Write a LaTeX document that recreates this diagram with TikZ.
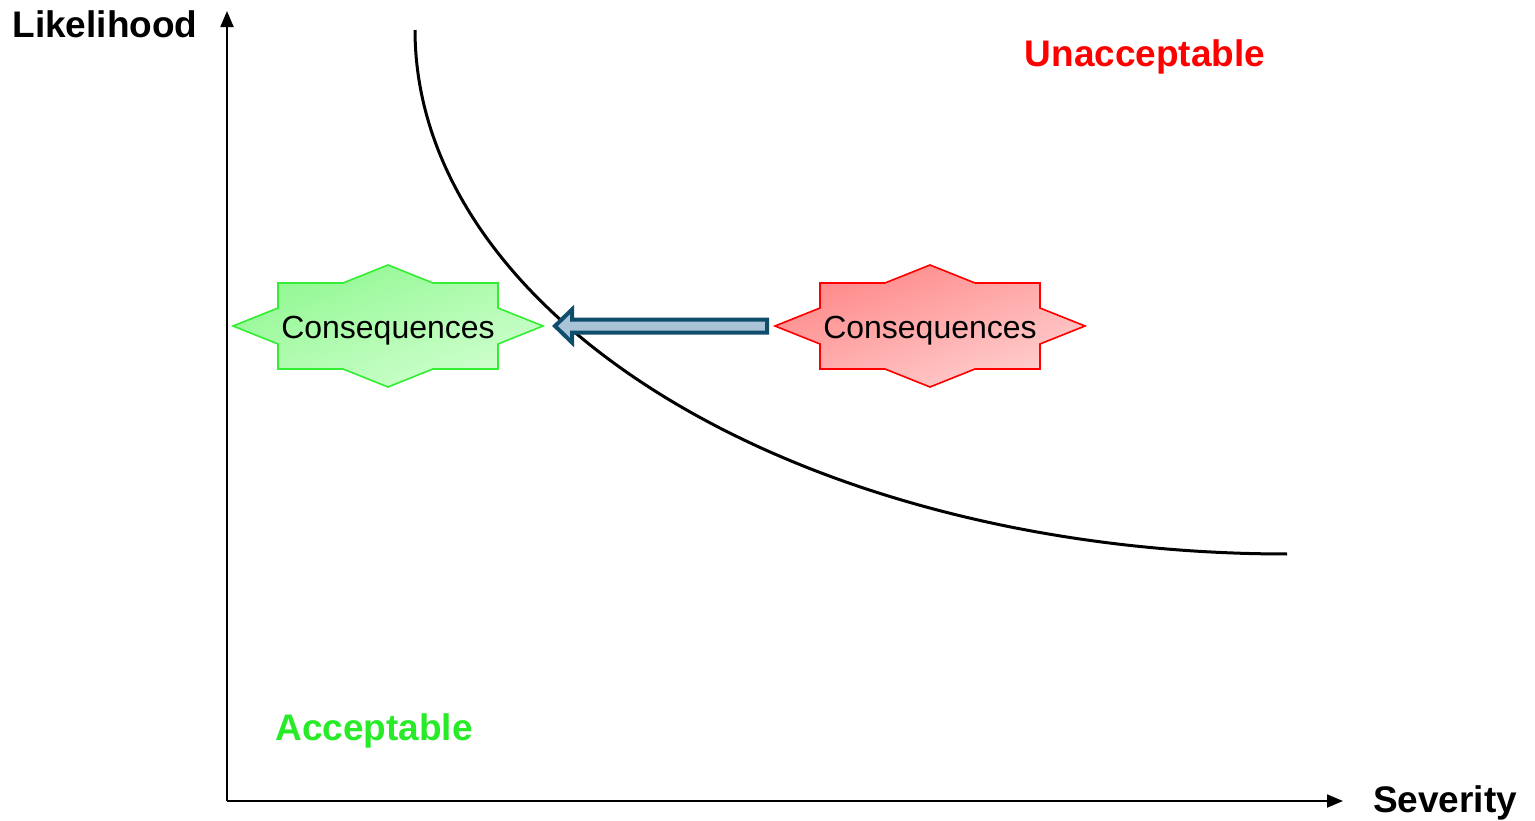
\documentclass[tikz,border=0pt]{standalone}
\usepackage{fontspec}
\setmainfont{Liberation Sans}
\usetikzlibrary{calc,arrows.meta}

\definecolor{okline}{RGB}{51,238,51}
\definecolor{oktop}{RGB}{145,248,145}
\definecolor{okbot}{RGB}{208,255,208}
\definecolor{badline}{RGB}{255,0,0}
\definecolor{badtop}{RGB}{255,135,135}
\definecolor{badbot}{RGB}{255,208,208}
\definecolor{arrowline}{RGB}{14,78,108}
\definecolor{arrowfill}{RGB}{170,195,215}
\definecolor{okgreen}{RGB}{40,235,40}
\definecolor{badred}{RGB}{255,0,0}

% eight-point burst around a centre; names (#1-e) and (#1-w)
\newcommand\burst[5]{%
  \draw[line width=1.6pt, draw=#3, top color=#4, bottom color=#5, shading angle=20, line join=miter]
    (#2) +(-155,0) -- +(-110,-18) -- +(-110,-43) -- +(-45,-43) -- +(0,-61)
    -- +(45,-43) -- +(110,-43) -- +(110,-18) -- +(155,0) -- +(110,18)
    -- +(110,43) -- +(45,43) -- +(0,61) -- +(-45,43) -- +(-110,43)
    -- +(-110,18) -- cycle;
  \coordinate (#1-e) at ($(#2)+(155,0)$);
  \coordinate (#1-w) at ($(#2)+(-155,0)$);
}

\tikzset{
  axis/.style={line width=1.8pt, -{Triangle[length=16pt, width=13pt]}},
  axislabel/.style={font=\fontsize{37}{44}\selectfont\bfseries, inner sep=0pt, anchor=base},
  burstlabel/.style={font=\fontsize{32}{38}\selectfont, inner sep=0pt, anchor=base},
  curve/.style={line width=3pt, line cap=butt},
  blockarrow/.style={line width=4pt, draw=arrowline, fill=arrowfill, line join=miter, miter limit=10},
}

\begin{document}
\begin{tikzpicture}[x=1pt, y=-1pt]
\useasboundingbox (0,0) rectangle (1535,820);

% axes
\coordinate (O) at (227,801);
\coordinate (ytop) at (227,11);
\coordinate (xend) at (1343,801);
\draw[axis] (O) -- (ytop);
\draw[axis] (O) -- (xend);

\node[axislabel] (ylab) at (105,37) {Likelihood};
\node[axislabel] (xlab) at (1445,812) {Severity};
\node[axislabel, text=badred] (unacc) at (1145,66) {Unacceptable};
\node[axislabel, text=okgreen] (acc) at (374,740) {Acceptable};

% acceptability boundary
\draw[curve] plot[domain=0:90, samples=90, smooth] ({1287-872*cos(\x)}, {30+524*sin(\x)});

% consequence bursts
\coordinate (okc) at (388,326);
\coordinate (badc) at (930,326);
\burst{ok}{okc}{okline}{oktop}{okbot}
\burst{bad}{badc}{badline}{badtop}{badbot}
\node[burstlabel] (oktext) at (388,338) {Consequences};
\node[burstlabel] (badtext) at (930,338) {Consequences};

% reduction arrow
\draw[blockarrow] let \p1=($(ok-e)+(12,0)$), \p2=($(bad-w)+(-8,0)$) in
  (\x1,\y1) -- (\x1+17,\y1+16.5) -- (\x1+17,\y1+6.5) -- (\x2,\y1+6.5)
  -- (\x2,\y1-6.5) -- (\x1+17,\y1-6.5) -- (\x1+17,\y1-16.5) -- cycle;
\end{tikzpicture}
\end{document}
